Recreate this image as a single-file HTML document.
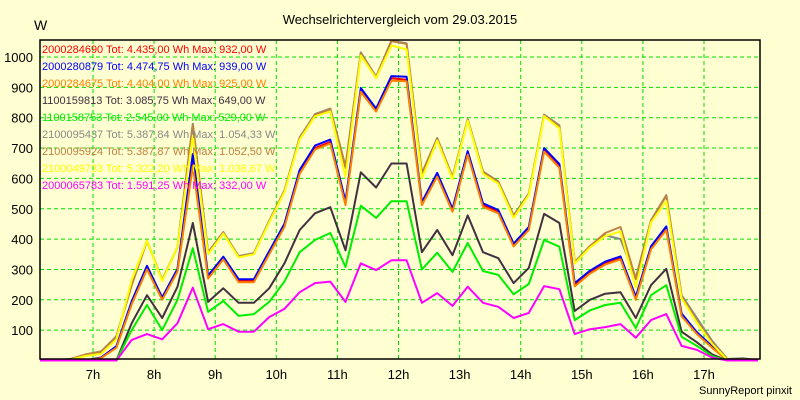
<!DOCTYPE html>
<html><head><meta charset="utf-8"><style>
body{margin:0;background:#ffffd2;}
svg{display:block;font-family:"Liberation Sans",sans-serif;}
</style></head><body>
<svg id="chart" width="800" height="400">
<rect width="800" height="400" fill="#ffffd2"/>
<text x="400" y="24" text-anchor="middle" font-size="13" fill="#000">Wechselrichtervergleich vom 29.03.2015</text>
<text x="34" y="30" font-size="14" fill="#000">W</text>
<text x="792" y="394" text-anchor="end" font-size="11" fill="#000">SunnyReport pinxit</text>
<g id="grid"></g><g id="series"></g><g id="legend"></g>
<rect x="40" y="40" width="720" height="319" fill="none" stroke="#000" stroke-width="1.5"/>
</svg>
<script>
const yTicks=[100,200,300,400,500,600,700,800,900,1000];
const hourTicks=[7,8,9,10,11,12,13,14,15,16,17];
const startMin=6*60+8, stepMin=15;
const sRed=[0,0,0,0,10,45,190,305,205,298,650,275,338,262,262,354,445,620,700,720,518,890,825,930,925,518,612,495,683,512,490,380,435,693,640,248,290,320,337,205,370,435,150,90,45,0,0,0];
const sBlue=[0,0,0,0,10,47,195,312,208,302,680,280,342,268,268,360,450,628,708,728,525,898,830,937,935,522,618,500,690,518,496,385,440,700,647,255,296,326,343,210,376,442,155,93,47,0,0,0];
const sOrange=[0,0,0,0,8,42,185,300,200,293,640,270,333,258,258,350,440,615,695,715,512,885,820,922,920,512,606,490,678,506,485,376,430,688,635,244,286,316,333,200,366,430,146,87,42,0,0,0];
const sDark=[0,0,0,0,0,0,123,215,140,243,453,193,238,190,190,238,320,430,485,505,363,620,570,649,649,357,430,347,478,357,337,255,305,483,453,163,200,220,225,140,248,302,95,60,20,0,0,0];
const sGreen=[0,0,0,0,0,0,100,183,100,200,370,160,196,147,153,193,260,357,397,420,308,510,470,525,525,300,355,292,387,295,282,218,252,397,375,133,165,183,190,107,215,248,78,48,15,0,0,0];
const sGray=[0,0,5,20,30,80,250,395,265,375,780,357,423,344,354,460,560,735,812,830,640,1015,935,1054,1045,617,733,605,795,623,590,478,550,810,775,325,377,413,400,272,462,545,215,140,65,5,8,0];
const sBrown=[0,0,5,20,28,78,248,393,265,373,775,355,421,342,352,458,558,733,810,828,635,1013,933,1052,1043,615,731,603,793,621,588,476,548,808,772,323,377,420,440,268,460,543,212,130,60,3,5,0];
const sYellow=[0,0,3,15,22,70,265,395,262,375,740,350,418,340,350,455,555,728,805,820,605,1005,930,1038,1025,600,725,598,790,615,583,470,545,805,765,320,372,410,425,240,455,525,205,125,55,2,4,0];
const sMagenta=[0,0,0,0,0,0,68,87,70,123,240,103,120,95,95,143,170,225,255,260,193,320,298,330,330,190,222,180,243,190,177,140,157,245,235,87,103,110,120,75,133,153,48,35,10,0,0,0];
const seriesNames=["2000284690 Tot: 4.435,00 Wh Max: 932,00 W","2000280879 Tot: 4.474,75 Wh Max: 939,00 W","2000284675 Tot: 4.404,00 Wh Max: 925,00 W","1100159813 Tot: 3.085,75 Wh Max: 649,00 W","1100158753 Tot: 2.545,00 Wh Max: 529,00 W","2100095437 Tot: 5.387,84 Wh Max: 1.054,33 W","2100095924 Tot: 5.387,87 Wh Max: 1.052,50 W","2100049733 Tot: 5.322,20 Wh Max: 1.038,67 W","2000065783 Tot: 1.591,25 Wh Max: 332,00 W"];
const seriesColors=["#ff0000","#0000ff","#ff8000","#403040","#00ee00","#888888","#c08040","#ffff00","#ff00ff"];
const seriesData=[sRed,sBlue,sOrange,sDark,sGreen,sGray,sBrown,sYellow,sMagenta];
const NS="http://www.w3.org/2000/svg";
function xMin(m){return 93+61.1*(m/60-7);}
function y(v){return 360.5-0.3035*v;}
const grid=document.getElementById('grid');
yTicks.forEach(v=>{
 const l=document.createElementNS(NS,'line');
 l.setAttribute('x1',40);l.setAttribute('x2',760);l.setAttribute('y1',y(v));l.setAttribute('y2',y(v));
 l.setAttribute('stroke','#00e000');l.setAttribute('stroke-dasharray','4,3');
 
 
 grid.appendChild(l);
 const t=document.createElementNS(NS,'text');
 t.setAttribute('x',33);t.setAttribute('y',y(v)+5);t.setAttribute('text-anchor','end');t.setAttribute('font-size','13');
 t.textContent=v;
 
 
 grid.appendChild(t);
});
hourTicks.forEach(h=>{
 const x=xMin(h*60);
 const l=document.createElementNS(NS,'line');
 l.setAttribute('x1',x);l.setAttribute('x2',x);l.setAttribute('y1',40);l.setAttribute('y2',359);
 l.setAttribute('stroke','#00e000');l.setAttribute('stroke-dasharray','4,3');
 
 
 grid.appendChild(l);
 const t=document.createElementNS(NS,'text');
 t.setAttribute('x',x);t.setAttribute('y',379);t.setAttribute('text-anchor','middle');t.setAttribute('font-size','13');
 t.textContent=h+'h';
 
 
 grid.appendChild(t);
});
const sg=document.getElementById('series');
seriesData.forEach((d,k)=>{
 const pts=d.map((v,i)=>xMin(startMin+i*stepMin).toFixed(1)+','+y(v).toFixed(1)).join(' ');
 const p=document.createElementNS(NS,'polyline');
 p.setAttribute('points',pts);p.setAttribute('fill','none');p.setAttribute('stroke',seriesColors[k]);
 p.setAttribute('stroke-width','2');p.setAttribute('stroke-linejoin','round');
 
 
 sg.appendChild(p);
});
const lg=document.getElementById('legend');
seriesNames.forEach((n,k)=>{
 const t=document.createElementNS(NS,'text');
 t.setAttribute('x',42);t.setAttribute('y',53+k*17);t.setAttribute('font-size','11');t.setAttribute('fill',seriesColors[k]);
 t.textContent=n;
 
 
 lg.appendChild(t);
});
</script>
</body></html>
